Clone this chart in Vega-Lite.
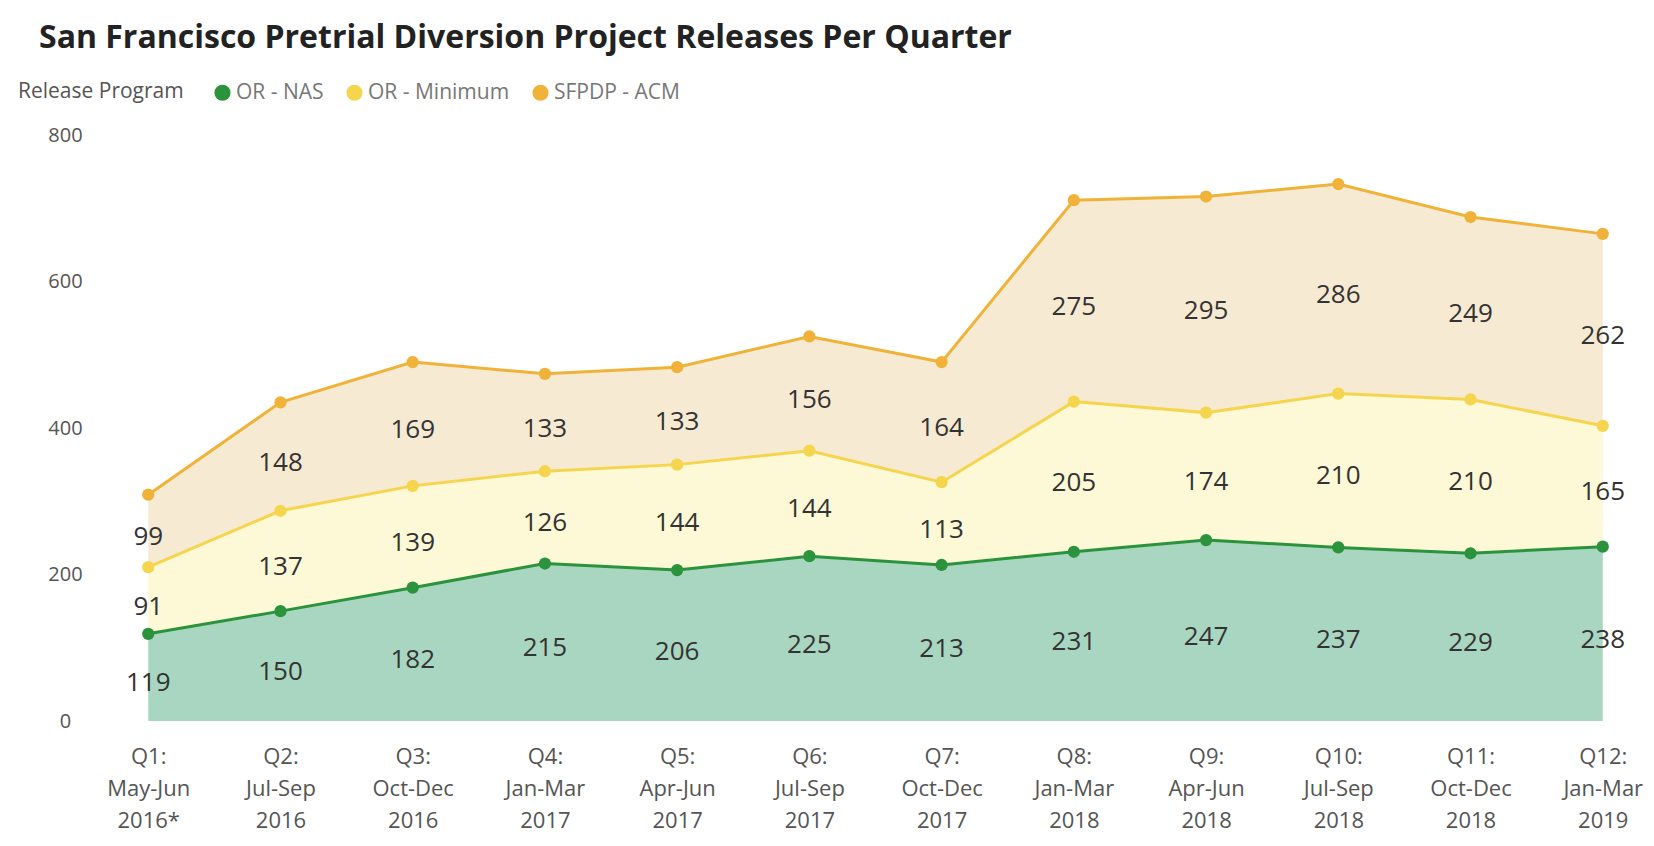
{
  "$schema": "https://vega.github.io/schema/vega-lite/v6.json",
  "autosize": {"type": "none"},
  "padding": {"left": 98, "top": 135, "right": 1, "bottom": 125},
  "width": 1555,
  "height": 586,
  "background": "white",
  "title": {
    "text": "San Francisco Pretrial Diversion Project  Releases Per Quarter",
    "anchor": "start",
    "frame": "group",
    "font": "Open Sans",
    "fontSize": 32,
    "fontWeight": "bold",
    "color": "#222222",
    "baseline": "alphabetic",
    "dx": -59,
    "dy": -2,
    "offset": 0
  },
  "config": {
    "view": {"stroke": null},
    "font": "Open Sans"
  },
  "data": {
    "values": [
      {"quarter": "Q1: May-Jun 2016*", "program": "OR - NAS", "releases": 119},
      {"quarter": "Q1: May-Jun 2016*", "program": "OR - Minimum", "releases": 91},
      {"quarter": "Q1: May-Jun 2016*", "program": "SFPDP - ACM", "releases": 99},
      {"quarter": "Q2: Jul-Sep 2016", "program": "OR - NAS", "releases": 150},
      {"quarter": "Q2: Jul-Sep 2016", "program": "OR - Minimum", "releases": 137},
      {"quarter": "Q2: Jul-Sep 2016", "program": "SFPDP - ACM", "releases": 148},
      {"quarter": "Q3: Oct-Dec 2016", "program": "OR - NAS", "releases": 182},
      {"quarter": "Q3: Oct-Dec 2016", "program": "OR - Minimum", "releases": 139},
      {"quarter": "Q3: Oct-Dec 2016", "program": "SFPDP - ACM", "releases": 169},
      {"quarter": "Q4: Jan-Mar 2017", "program": "OR - NAS", "releases": 215},
      {"quarter": "Q4: Jan-Mar 2017", "program": "OR - Minimum", "releases": 126},
      {"quarter": "Q4: Jan-Mar 2017", "program": "SFPDP - ACM", "releases": 133},
      {"quarter": "Q5: Apr-Jun 2017", "program": "OR - NAS", "releases": 206},
      {"quarter": "Q5: Apr-Jun 2017", "program": "OR - Minimum", "releases": 144},
      {"quarter": "Q5: Apr-Jun 2017", "program": "SFPDP - ACM", "releases": 133},
      {"quarter": "Q6: Jul-Sep 2017", "program": "OR - NAS", "releases": 225},
      {"quarter": "Q6: Jul-Sep 2017", "program": "OR - Minimum", "releases": 144},
      {"quarter": "Q6: Jul-Sep 2017", "program": "SFPDP - ACM", "releases": 156},
      {"quarter": "Q7: Oct-Dec 2017", "program": "OR - NAS", "releases": 213},
      {"quarter": "Q7: Oct-Dec 2017", "program": "OR - Minimum", "releases": 113},
      {"quarter": "Q7: Oct-Dec 2017", "program": "SFPDP - ACM", "releases": 164},
      {"quarter": "Q8: Jan-Mar 2018", "program": "OR - NAS", "releases": 231},
      {"quarter": "Q8: Jan-Mar 2018", "program": "OR - Minimum", "releases": 205},
      {"quarter": "Q8: Jan-Mar 2018", "program": "SFPDP - ACM", "releases": 275},
      {"quarter": "Q9: Apr-Jun 2018", "program": "OR - NAS", "releases": 247},
      {"quarter": "Q9: Apr-Jun 2018", "program": "OR - Minimum", "releases": 174},
      {"quarter": "Q9: Apr-Jun 2018", "program": "SFPDP - ACM", "releases": 295},
      {"quarter": "Q10: Jul-Sep 2018", "program": "OR - NAS", "releases": 237},
      {"quarter": "Q10: Jul-Sep 2018", "program": "OR - Minimum", "releases": 210},
      {"quarter": "Q10: Jul-Sep 2018", "program": "SFPDP - ACM", "releases": 286},
      {"quarter": "Q11: Oct-Dec 2018", "program": "OR - NAS", "releases": 229},
      {"quarter": "Q11: Oct-Dec 2018", "program": "OR - Minimum", "releases": 210},
      {"quarter": "Q11: Oct-Dec 2018", "program": "SFPDP - ACM", "releases": 249},
      {"quarter": "Q12: Jan-Mar 2019", "program": "OR - NAS", "releases": 238},
      {"quarter": "Q12: Jan-Mar 2019", "program": "OR - Minimum", "releases": 165},
      {"quarter": "Q12: Jan-Mar 2019", "program": "SFPDP - ACM", "releases": 262}
    ]
  },
  "transform": [
    {"calculate": "indexof(['OR - NAS','OR - Minimum','SFPDP - ACM'], datum.program)", "as": "stackOrder"},
    {"stack": "releases", "groupby": ["quarter"], "sort": [{"field": "stackOrder", "order": "ascending"}], "as": ["y0", "y1"]},
    {"calculate": "(datum.y0 + datum.y1) / 2", "as": "ymid"}
  ],
  "encoding": {
    "x": {
      "field": "quarter",
      "type": "ordinal",
      "sort": null,
      "scale": {"type": "point", "padding": 0.38},
      "axis": {
        "title": null,
        "domain": false,
        "ticks": false,
        "grid": false,
        "labelAngle": 0,
        "labelExpr": "split(datum.value, ' ')",
        "labelFont": "Open Sans",
        "labelFontSize": 22,
        "labelColor": "#555555",
        "labelLineHeight": 32,
        "labelPadding": 25,
        "labelBaseline": "top"
      }
    }
  },
  "layer": [
    {
      "mark": {"type": "area", "interpolate": "linear"},
      "encoding": {
        "y": {"field": "y1", "type": "quantitative", "scale": {"domain": [0, 800]},
          "axis": {
            "title": null,
            "values": [0, 200, 400, 600, 800],
            "domain": false,
            "ticks": false,
            "grid": false,
            "labelFont": "Open Sans",
            "labelFontSize": 20,
            "labelColor": "#555555",
            "labelAlign": "center",
            "labelPadding": 33
          }
        },
        "y2": {"field": "y0"},
        "fill": {
          "field": "program",
          "type": "nominal",
          "scale": {"range": ["#fdf8d6", "#a9d6c1", "#f7ead3"]},
          "legend": null
        }
      }
    },
    {
      "mark": {"type": "line", "strokeWidth": 3, "interpolate": "linear"},
      "encoding": {
        "y": {"field": "y1", "type": "quantitative"},
        "color": {
          "field": "program",
          "type": "nominal",
          "scale": {"domain": ["OR - NAS", "OR - Minimum", "SFPDP - ACM"], "range": ["#2b933c", "#f5d54e", "#f0b238"]}
        }
      }
    },
    {
      "mark": {"type": "point", "filled": true, "opacity": 1, "size": 150},
      "encoding": {
        "y": {"field": "y1", "type": "quantitative"},
        "color": {
          "field": "program",
          "type": "nominal",
          "scale": {"domain": ["OR - NAS", "OR - Minimum", "SFPDP - ACM"], "range": ["#2b933c", "#f5d54e", "#f0b238"]},
          "legend": {
            "orient": "none",
            "legendX": -80,
            "legendY": -53,
            "direction": "horizontal",
            "title": "Release Program",
            "titleOrient": "left",
            "titleFont": "Open Sans",
            "titleFontSize": 21,
            "titleFontWeight": "normal",
            "titleColor": "#555555",
            "titlePadding": 28,
            "labelFont": "Open Sans",
            "labelFontSize": 21,
            "labelColor": "#777777",
            "symbolType": "circle",
            "symbolSize": 260,
            "symbolOpacity": 1,
            "symbolStrokeWidth": 0,
            "columnPadding": 20,
            "labelOffset": 3
          }
        }
      }
    },
    {
      "mark": {"type": "text", "font": "Open Sans", "fontSize": 26, "color": "#333333", "baseline": "middle", "dy": 6},
      "encoding": {
        "y": {"field": "ymid", "type": "quantitative"},
        "text": {"field": "releases", "type": "quantitative"}
      }
    }
  ]
}
